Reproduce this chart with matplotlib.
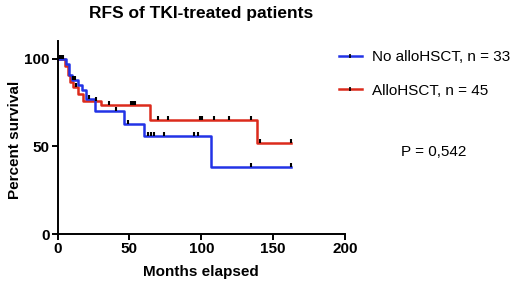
import matplotlib
matplotlib.use("Agg")
import matplotlib.pyplot as plt
from matplotlib.lines import Line2D

plt.rcParams['font.family'] = ['Liberation Sans', 'DejaVu Sans']

# Kaplan-Meier step data (months, percent)
no_allo_times = [0, 6, 8, 10, 14, 17, 20, 26, 46, 60.5, 107, 162.5]
no_allo_surv = [100, 97, 91, 88, 85, 82, 77, 70, 63, 56, 38, 38]
no_allo_cens_t = [2, 4, 11, 12, 22, 41, 49, 63, 65, 67, 74, 95, 98, 134.5, 162.5]

allo_times = [0, 5, 7, 9, 11, 14, 18, 30, 64, 139, 162.5]
allo_surv = [100, 96, 91, 87, 84, 80, 76, 73.5, 65, 52, 52]
allo_cens_t = [3, 13, 27, 36, 51, 52, 53, 54, 70, 77, 99, 100.5, 109, 119, 134.5, 140.5, 162.5]

x_ticks = [0, 50, 100, 150, 200]
y_ticks = [0, 50, 100]

blue = '#2233e6'
red = '#dc2b1c'


def level_at(times, surv, t):
    v = surv[0]
    for ti, si in zip(times, surv):
        if ti <= t:
            v = si
    return v


fig = plt.figure(figsize=(5.2, 2.84), dpi=100)
ax = fig.add_axes([0.1106, 0.176, 0.553, 0.678])

for times, surv, cens, col in [(allo_times, allo_surv, allo_cens_t, red),
                               (no_allo_times, no_allo_surv, no_allo_cens_t, blue)]:
    ax.step(times, surv, where='post', color=col, lw=1.8, zorder=2)
    ax.plot(cens, [level_at(times, surv, t) + 1.2 for t in cens], ls='none',
            marker='|', ms=3.5, mew=1.5, color='black', zorder=3)

ax.set_xlim(0, 200)
ax.set_ylim(0, 110)
ax.set_xticks(x_ticks)
ax.set_yticks(y_ticks)
for spine in ['top', 'right']:
    ax.spines[spine].set_visible(False)
for spine in ['left', 'bottom']:
    ax.spines[spine].set_linewidth(1.4)
ax.tick_params(width=1.4, length=4, labelsize=11, pad=1.5)
for lab in ax.get_xticklabels() + ax.get_yticklabels():
    lab.set_fontweight('bold')

ax.set_xlabel('Months elapsed', fontsize=11, fontweight='bold')
ax.set_ylabel('Percent survival', fontsize=11, fontweight='bold')
ax.xaxis.set_label_coords(0.5, -0.16)
ax.yaxis.set_label_coords(-0.125, 0.49)
fig.text(0.387, 0.954, 'RFS of TKI-treated patients', ha='center', va='center',
         fontsize=12.5, fontweight='bold')

handles = [Line2D([0], [0], color=blue, lw=1.8, marker='|', ms=3, mew=1.2, mec='black'),
           Line2D([0], [0], color=red, lw=1.8, marker='|', ms=3, mec='black', mew=1.2)]
fig.legend(handles, ['No alloHSCT, n = 33', 'AlloHSCT, n = 45'],
           loc='upper left', bbox_to_anchor=(0.652, 0.824), frameon=False,
           borderpad=0, borderaxespad=0,
           fontsize=11, handlelength=1.5, handletextpad=0.65, labelspacing=1.3)
fig.text(0.834, 0.466, 'P = 0,542', ha='center', va='center', fontsize=11)

fig.savefig('out.png', dpi=100)
